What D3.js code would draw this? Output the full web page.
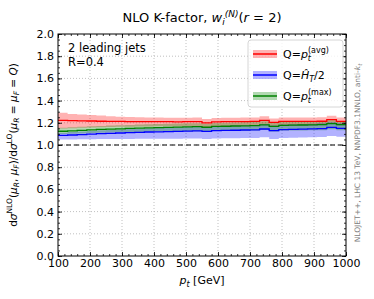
<html lang="en">
<head>
<meta charset="UTF-8">
<title>NLO K-factor</title>
<script src="https://d3js.org/d3.v7.min.js"></script>
<style>
    body { margin: 0; background: #fff; }
    svg text { font-family: "DejaVu Sans", sans-serif; fill: #000; }
</style>
</head>
<body>
<script>

    // bin edges in pt [GeV]
    const binEdges = [100, 130, 160, 190, 220, 250, 280, 310, 340, 370, 400, 430, 460, 490, 520, 550,
        580, 610, 640, 670, 700, 730, 760, 790, 820, 850, 880, 910, 940, 970, 1000];

    // Q = pt(avg)
    const redMid = [1.222, 1.220, 1.218, 1.216, 1.214, 1.212, 1.212, 1.211, 1.210, 1.210, 1.210, 1.210, 1.209, 1.210, 1.211,
        1.200, 1.208, 1.210, 1.210, 1.211, 1.212, 1.222, 1.203, 1.212, 1.213, 1.213, 1.212, 1.214, 1.228, 1.212];
    const redHi = [1.290, 1.280, 1.275, 1.270, 1.265, 1.260, 1.255, 1.252, 1.250, 1.248, 1.247, 1.246, 1.245, 1.246, 1.247,
        1.235, 1.244, 1.246, 1.246, 1.247, 1.248, 1.258, 1.238, 1.247, 1.248, 1.248, 1.247, 1.249, 1.263, 1.247];
    const redLo = [1.148, 1.152, 1.155, 1.158, 1.160, 1.162, 1.164, 1.165, 1.166, 1.167, 1.168, 1.169, 1.169, 1.170, 1.171,
        1.160, 1.170, 1.172, 1.172, 1.173, 1.174, 1.184, 1.166, 1.175, 1.176, 1.176, 1.176, 1.178, 1.192, 1.176];

    // Q = HT/2
    const blueMid = [1.086, 1.090, 1.094, 1.098, 1.102, 1.105, 1.108, 1.111, 1.114, 1.117, 1.119, 1.121, 1.123, 1.125, 1.127,
        1.122, 1.129, 1.131, 1.133, 1.135, 1.137, 1.144, 1.130, 1.139, 1.141, 1.143, 1.145, 1.147, 1.158, 1.150];
    const blueHi = [1.111, 1.117, 1.122, 1.127, 1.132, 1.136, 1.140, 1.144, 1.147, 1.151, 1.154, 1.157, 1.160, 1.163, 1.166,
        1.161, 1.169, 1.172, 1.175, 1.178, 1.181, 1.189, 1.175, 1.185, 1.187, 1.190, 1.192, 1.195, 1.206, 1.197];
    const blueLo = [1.050, 1.050, 1.051, 1.052, 1.053, 1.054, 1.055, 1.055, 1.056, 1.056, 1.057, 1.057, 1.057, 1.058, 1.058,
        1.053, 1.059, 1.060, 1.061, 1.062, 1.063, 1.069, 1.055, 1.064, 1.066, 1.067, 1.069, 1.071, 1.082, 1.074];

    // Q = pt(max)
    const greenMid = [1.124, 1.128, 1.132, 1.136, 1.140, 1.143, 1.146, 1.149, 1.152, 1.155, 1.157, 1.159, 1.161, 1.163, 1.165,
        1.160, 1.167, 1.169, 1.171, 1.173, 1.175, 1.182, 1.168, 1.177, 1.179, 1.180, 1.181, 1.183, 1.192, 1.184];
    const greenHi = [1.156, 1.160, 1.164, 1.168, 1.172, 1.175, 1.178, 1.181, 1.184, 1.187, 1.189, 1.191, 1.193, 1.195, 1.197,
        1.192, 1.199, 1.201, 1.203, 1.205, 1.207, 1.214, 1.200, 1.209, 1.211, 1.212, 1.213, 1.215, 1.224, 1.216];
    const greenLo = [1.098, 1.101, 1.104, 1.107, 1.110, 1.112, 1.114, 1.116, 1.118, 1.120, 1.121, 1.122, 1.123, 1.124, 1.125,
        1.119, 1.126, 1.127, 1.128, 1.129, 1.130, 1.136, 1.121, 1.130, 1.131, 1.131, 1.132, 1.133, 1.141, 1.132];

    const xTicks = [100, 200, 300, 400, 500, 600, 700, 800, 900, 1000];
    const yTicks = [0.0, 0.2, 0.4, 0.6, 0.8, 1.0, 1.2, 1.4, 1.6, 1.8, 2.0];

    const w = 374, h = 299;
    const mLeft = 58, mRight = 346, mTop = 34, mBottom = 256;

    const svg = d3.select("body").append("svg")
        .attr("width", w)
        .attr("height", h);

    const xScale = d3.scaleLinear().domain([100, 1000]).range([mLeft, mRight]);
    const yScale = d3.scaleLinear().domain([0, 2]).range([mBottom, mTop]);

    // grid
    const grid = svg.append("g");
    grid.selectAll(".gx").data(xTicks.slice(1, -1)).enter().append("line")
        .attr("x1", d => xScale(d)).attr("x2", d => xScale(d))
        .attr("y1", mTop).attr("y2", mBottom)
        .attr("stroke", "#b0b0b0").attr("stroke-width", 0.8).attr("stroke-dasharray", "1,2");
    grid.selectAll(".gy").data(yTicks.slice(1, -1)).enter().append("line")
        .attr("x1", mLeft).attr("x2", mRight)
        .attr("y1", d => yScale(d)).attr("y2", d => yScale(d))
        .attr("stroke", "#b0b0b0").attr("stroke-width", 0.8).attr("stroke-dasharray", "1,2");

    // step band + line helpers
    function stepPoints(vals) {
        const pts = [];
        vals.forEach((v, i) => {
            pts.push([binEdges[i], v]);
            pts.push([binEdges[i + 1], v]);
        });
        return pts;
    }

    const area = d3.area()
        .x(d => xScale(d[0]))
        .y0(d => yScale(d[1]))
        .y1(d => yScale(d[2]));
    const line = d3.line()
        .x(d => xScale(d[0]))
        .y(d => yScale(d[1]));

    const series = [
        { mid: redMid, lo: redLo, hi: redHi, color: "#ff0000" },
        { mid: blueMid, lo: blueLo, hi: blueHi, color: "#0000ff" },
        { mid: greenMid, lo: greenLo, hi: greenHi, color: "#008000" }
    ];

    series.forEach(s => {
        const lo = stepPoints(s.lo), hi = stepPoints(s.hi);
        const band = lo.map((p, i) => [p[0], p[1], hi[i][1]]);
        svg.append("path")
            .attr("d", area(band))
            .attr("fill", s.color)
            .attr("fill-opacity", 0.3);
    });
    series.forEach(s => {
        svg.append("path")
            .attr("d", line(stepPoints(s.mid)))
            .attr("fill", "none")
            .attr("stroke", s.color)
            .attr("stroke-width", 1.3);
    });

    // dashed line at 1
    svg.append("line")
        .attr("x1", mLeft).attr("x2", mRight)
        .attr("y1", yScale(1)).attr("y2", yScale(1))
        .attr("stroke", "#000").attr("stroke-width", 1.2).attr("stroke-dasharray", "5,3");

    // axes, ticks inward on all sides
    const xMinor = d3.range(100, 1001, 20);
    const yMinor = d3.range(0, 2.001, 0.05);

    function addAxis(axis, transform, showLabels) {
        const g = svg.append("g").attr("transform", transform).call(axis);
        g.select(".domain").remove();
        g.selectAll("line").attr("stroke", "#000").attr("stroke-width", 0.8);
        g.selectAll("text").style("font-size", "11px").style("font-family", "DejaVu Sans");
        if (!showLabels) g.selectAll("text").remove();
        return g;
    }

    addAxis(d3.axisBottom(xScale).tickValues(xTicks).tickSize(-4).tickPadding(3).tickFormat(d3.format("d")),
        `translate(0,${mBottom})`, true);
    addAxis(d3.axisBottom(xScale).tickValues(xMinor).tickSize(-2).tickFormat(""), `translate(0,${mBottom})`, false);
    addAxis(d3.axisTop(xScale).tickValues(xTicks).tickSize(-4), `translate(0,${mTop})`, false);
    addAxis(d3.axisTop(xScale).tickValues(xMinor).tickSize(-2), `translate(0,${mTop})`, false);
    addAxis(d3.axisLeft(yScale).tickValues(yTicks).tickSize(-4).tickPadding(4).tickFormat(d3.format(".1f")),
        `translate(${mLeft},0)`, true);
    addAxis(d3.axisLeft(yScale).tickValues(yMinor).tickSize(-2), `translate(${mLeft},0)`, false);
    addAxis(d3.axisRight(yScale).tickValues(yTicks).tickSize(-4), `translate(${mRight},0)`, false);
    addAxis(d3.axisRight(yScale).tickValues(yMinor).tickSize(-2), `translate(${mRight},0)`, false);

    // frame
    svg.append("rect")
        .attr("x", mLeft).attr("y", mTop)
        .attr("width", mRight - mLeft).attr("height", mBottom - mTop)
        .attr("fill", "none").attr("stroke", "#000").attr("stroke-width", 1);

    // title
    const title = svg.append("text")
        .attr("x", 202).attr("y", 22)
        .attr("text-anchor", "middle")
        .style("font-size", "13px");
    title.append("tspan").text("NLO K-factor, ");
    title.append("tspan").style("font-style", "italic").text("w");
    title.append("tspan").style("font-style", "italic").style("font-size", "9px").attr("dy", 3).text("i");
    title.append("tspan").style("font-style", "italic").style("font-size", "9px").attr("dy", -8).text("(N)");
    title.append("tspan").attr("dy", 5).text("(");
    title.append("tspan").style("font-style", "italic").text("r");
    title.append("tspan").text(" = 2)");

    // annotation
    svg.append("text").attr("x", 68).attr("y", 52).style("font-size", "11.5px").text("2 leading jets");
    svg.append("text").attr("x", 68).attr("y", 66).style("font-size", "11.5px").text("R=0.4");

    // legend
    svg.append("rect")
        .attr("x", 248).attr("y", 40).attr("width", 95).attr("height", 67)
        .attr("rx", 3)
        .attr("fill", "#fff").attr("fill-opacity", 0.8)
        .attr("stroke", "#cccccc").attr("stroke-width", 0.8);

    const legendItems = [
        { color: "#ff0000", main: "p", sub: "t", sup: "(avg)", y: 54 },
        { color: "#0000ff", main: "Ĥ", sub: "T", sup: null, y: 75 },
        { color: "#008000", main: "p", sub: "t", sup: "(max)", y: 96 }
    ];
    legendItems.forEach(d => {
        svg.append("rect")
            .attr("x", 253).attr("y", d.y - 4).attr("width", 24).attr("height", 8)
            .attr("fill", d.color).attr("fill-opacity", 0.3);
        svg.append("line")
            .attr("x1", 253).attr("x2", 277).attr("y1", d.y).attr("y2", d.y)
            .attr("stroke", d.color).attr("stroke-width", 1.5);
        const t = svg.append("text").attr("x", 283).attr("y", d.y + 4).style("font-size", "11px");
        t.append("tspan").text("Q=");
        t.append("tspan").style("font-style", "italic").text(d.main);
        if (d.sup) {
            t.append("tspan").style("font-style", "italic").style("font-size", "8px").attr("dy", 3).text(d.sub);
            t.append("tspan").style("font-size", "8px").attr("dx", -3).attr("dy", -8).text(d.sup);
        } else {
            t.append("tspan").style("font-style", "italic").style("font-size", "8px").attr("dy", 3).text(d.sub);
            t.append("tspan").attr("dy", -3).text("/2");
        }
    });

    // x label
    const xl = svg.append("text").attr("x", 202).attr("y", 284)
        .attr("text-anchor", "middle").style("font-size", "11px");
    xl.append("tspan").style("font-style", "italic").text("p");
    xl.append("tspan").style("font-style", "italic").style("font-size", "8px").attr("dy", 3).text("t");
    xl.append("tspan").attr("dy", -3).text(" [GeV]");

    // y label
    const yl = svg.append("text")
        .attr("transform", `translate(17,${(mTop + mBottom) / 2}) rotate(-90)`)
        .attr("text-anchor", "middle").style("font-size", "10.5px");
    yl.append("tspan").text("d");
    yl.append("tspan").style("font-style", "italic").text("σ");
    yl.append("tspan").style("font-size", "7.5px").attr("dy", -5).text("NLO");
    yl.append("tspan").attr("dy", 5).text("(");
    yl.append("tspan").style("font-style", "italic").text("μ");
    yl.append("tspan").style("font-style", "italic").style("font-size", "7.5px").attr("dy", 2).text("R");
    yl.append("tspan").attr("dy", -2).text(", ");
    yl.append("tspan").style("font-style", "italic").text("μ");
    yl.append("tspan").style("font-style", "italic").style("font-size", "7.5px").attr("dy", 2).text("F");
    yl.append("tspan").attr("dy", -2).text(")/d");
    yl.append("tspan").style("font-style", "italic").text("σ");
    yl.append("tspan").style("font-size", "7.5px").attr("dy", -5).text("LO");
    yl.append("tspan").attr("dy", 5).text("(");
    yl.append("tspan").style("font-style", "italic").text("μ");
    yl.append("tspan").style("font-style", "italic").style("font-size", "7.5px").attr("dy", 2).text("R");
    yl.append("tspan").attr("dy", -2).text(" = ");
    yl.append("tspan").style("font-style", "italic").text("μ");
    yl.append("tspan").style("font-style", "italic").style("font-size", "7.5px").attr("dy", 2).text("F");
    yl.append("tspan").attr("dy", -2).text(" = ");
    yl.append("tspan").style("font-style", "italic").text("Q");
    yl.append("tspan").text(")");

    // side note
    const side = svg.append("text")
        .attr("transform", `translate(360,${(mTop + mBottom) / 2 + 8}) rotate(-90)`)
        .attr("text-anchor", "middle").style("font-size", "7.5px").style("fill", "#808080");
    side.append("tspan").text("NLOJET++, LHC 13 TeV, NNPDF3.1NNLO, anti-");
    side.append("tspan").style("font-style", "italic").text("k");
    side.append("tspan").style("font-style", "italic").style("font-size", "5.5px").attr("dy", 1.5).text("t");

</script>
</body>
</html>
